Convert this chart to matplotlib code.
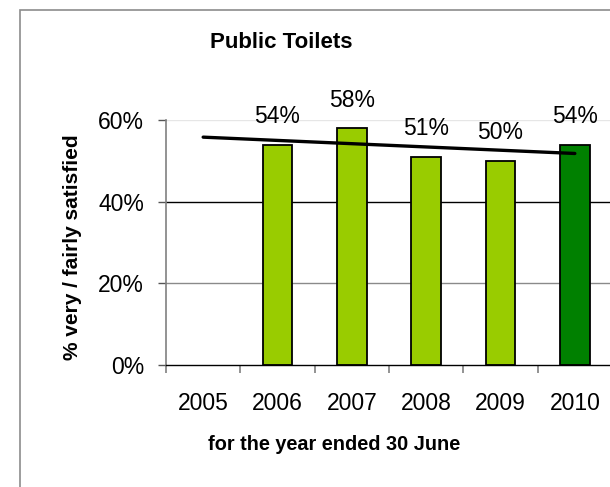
import numpy as np
import matplotlib
matplotlib.use("Agg")
import matplotlib.pyplot as plt
from matplotlib.patches import Rectangle

plt.rcParams['font.family'] = ['Liberation Sans', 'DejaVu Sans']

years = ["2005", "2006", "2007", "2008", "2009", "2010"]
satisfied = [np.nan, 54, 58, 51, 50, 54]
bar_colors = ["#99CC00", "#99CC00", "#99CC00", "#99CC00", "#99CC00", "#008000"]
y_ticks = [0, 20, 40, 60]
y_tick_labels = ["0%", "20%", "40%", "60%"]

W, H = 610, 487
fig = plt.figure(figsize=(W / 100, H / 100), dpi=100)

# outer chart frame
fig.patches.append(Rectangle((20 / W, -0.05), 1.0, 1 - 10 / H + 0.05,
                             transform=fig.transFigure, fill=False,
                             edgecolor="#8c8c8c", linewidth=1.2))

ax = fig.add_axes([166 / W, 1 - 365 / H, 446 / W, 245 / H])
x = np.arange(len(years))
vals = np.array(satisfied, dtype=float)

ax.set_xlim(-0.5, len(years) - 0.5)
ax.set_ylim(0, 60)

# horizontal gridlines
grid_colors = {20: "#8a8a8a", 40: "#000000", 60: "#e6e6e6"}
for yv, c in grid_colors.items():
    ax.axhline(yv, color=c, linewidth=1.0, zorder=0)

mask = ~np.isnan(vals)
ax.bar(x[mask], vals[mask], width=0.4,
       color=[bar_colors[i] for i in np.where(mask)[0]],
       edgecolor="black", linewidth=1.3, zorder=2)

for xi, v in zip(x[mask], vals[mask]):
    ax.annotate(f"{v:.0f}%", (xi, v), xytext=(0, 28), textcoords="offset pixels",
                ha="center", va="center", fontsize=16.5, color="black",
                clip_on=False, zorder=4)

# linear trend across the surveyed years, extended over the full axis
coef = np.polyfit(x[mask], vals[mask], 1)
ax.plot([x[0], x[-1]], np.polyval(coef, [x[0], x[-1]]), color="black",
        linewidth=2.4, solid_capstyle="round", zorder=3, clip_on=False)

ax.set_yticks(y_ticks)
ax.set_yticklabels(y_tick_labels, fontsize=16.5)
ax.set_xticks(x)
ax.set_xticklabels(years, fontsize=16.5)
ax.set_xticks(np.arange(-0.5, len(years)), minor=True)
ax.tick_params(axis="x", which="major", length=0, pad=19.5)
ax.tick_params(axis="x", which="minor", length=5.8, color="#808080", width=1.2)
ax.tick_params(axis="y", length=5.5, color="#555555", width=1.0, pad=10.3)

for s in ["top", "right"]:
    ax.spines[s].set_visible(False)
ax.spines["left"].set_color("#808080")
ax.spines["left"].set_linewidth(1.2)
ax.spines["bottom"].set_color("black")
ax.spines["bottom"].set_linewidth(1.0)

fig.text(281 / W, 1 - 42 / H, "Public Toilets", ha="center", va="center",
         fontsize=16, fontweight="bold")
fig.text(334 / W, 1 - 445 / H, "for the year ended 30 June", ha="center",
         va="center", fontsize=14.3, fontweight="bold")
fig.text(72 / W, 1 - 247 / H, "% very / fairly satisfied", ha="center",
         va="center", rotation=90, fontsize=15, fontweight="bold")

fig.savefig("out.png", dpi=100, facecolor="white")
